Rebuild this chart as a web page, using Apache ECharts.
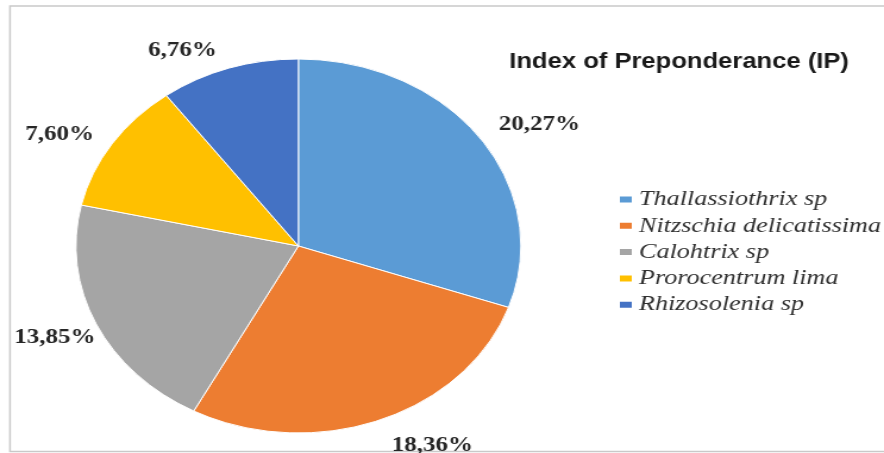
<!DOCTYPE html>
<html>
<head>
<meta charset="utf-8">
<script src="https://cdn.jsdelivr.net/npm/echarts@6/dist/echarts.min.js"></script>
<style>
html,body{margin:0;padding:0;background:#fff;overflow:hidden;width:884px;height:453px;}
#chart{width:743px;height:453px;transform:scaleX(1.1898);transform-origin:0 0;}
</style>
</head>
<body>
<div id="chart"></div>
<script>
const categories = ['Thallassiothrix sp', 'Nitzschia delicatissima', 'Calohtrix sp', 'Prorocentrum lima', 'Rhizosolenia sp'];
const values = [20.27, 18.36, 13.85, 7.60, 6.76];
const colors = ['#5B9BD5', '#ED7D31', '#A5A5A5', '#FFC000', '#4472C4'];
const titleText = 'Index of Preponderance (IP)';

// label placement tweaks (style only)
const labelNudge = [[16, 11], [29, -14], [3.4, -4], [-9, 13.5], [-26, 22]];

const SERIF = '"Liberation Serif", "Times New Roman", serif';
const SANS = '"Liberation Sans", Arial, sans-serif';
const fmt = v => v.toFixed(2).replace('.', ',') + '%';

const pieData = categories.map((c, i) => ({
  name: c, value: values[i], itemStyle: { color: colors[i] }
}));
const ringData = categories.map((c, i) => ({
  name: c, value: values[i],
  label: { offset: labelNudge[i] }
}));

const chart = echarts.init(document.getElementById('chart'), null, { renderer: 'canvas' });
chart.setOption({
  animation: false,
  backgroundColor: '#fff',
  title: {
    text: titleText,
    left: 423, top: 46,
    textStyle: { fontFamily: SANS, fontWeight: 'bold', fontSize: 21.5, color: '#1a1a1a' }
  },
  legend: {
    orient: 'vertical',
    left: 519, top: 188,
    padding: 0,
    icon: 'rect',
    itemWidth: 12, itemHeight: 8,
    itemGap: 3.3,
    data: categories,
    textStyle: { fontFamily: SERIF, fontStyle: 'italic', fontSize: 22, lineHeight: 23, color: '#303030' },
    selectedMode: false
  },
  graphic: [{
    type: 'rect', silent: true, z: -1,
    shape: { x: 8.4, y: 6, width: 900, height: 445.5 },
    style: { fill: 'none', stroke: '#c9c9c9', lineWidth: 1.5 }
  }],
  series: [{
    type: 'pie',
    center: [250.8, 246],
    radius: 187,
    startAngle: 90,
    clockwise: true,
    label: { show: false },
    labelLine: { show: false },
    itemStyle: { borderColor: '#ffffff', borderWidth: 1 },
    data: pieData
  }, {
    type: 'pie',
    center: [250.8, 246],
    radius: [206, 246],
    startAngle: 90,
    clockwise: true,
    silent: true,
    legendHoverLink: false,
    itemStyle: { color: 'rgba(0,0,0,0)' },
    label: {
      show: true, position: 'inside',
      formatter: p => fmt(p.value),
      fontFamily: SERIF, fontWeight: 'bold', fontSize: 21, color: '#262626'
    },
    labelLine: { show: false },
    data: ringData
  }]
});
</script>
</body>
</html>
